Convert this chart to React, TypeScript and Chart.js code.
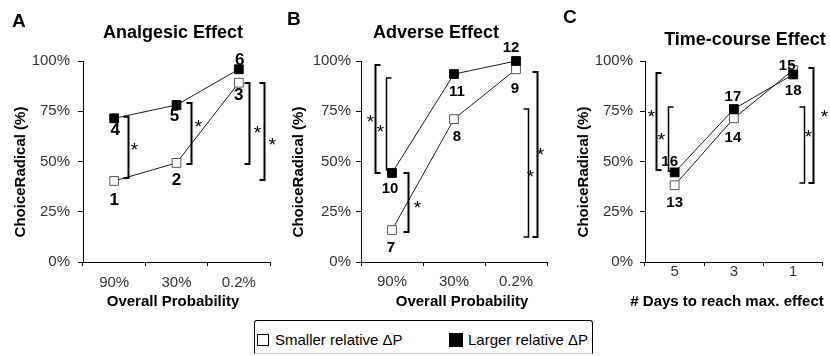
import React, { useEffect, useRef } from 'react';
import { Chart, registerables } from 'chart.js';

Chart.register(...registerables);

// ---------- data ----------
const probCategories = ['90%', '30%', '0.2%'];
const dayCategories = ['5', '3', '1'];
const yTickValues = [0, 25, 50, 75, 100];

const analgesicSmaller = [40.3, 49.3, 89.2];
const analgesicLarger = [71.5, 78.1, 95.9];
const adverseSmaller = [15.9, 71.1, 95.9];
const adverseLarger = [44.3, 93.5, 100];
const timeSmaller = [38.2, 71.5, 95.5];
const timeLarger = [44.6, 76.1, 93.3];

const analgesicSmallerIds = ['1', '2', '3'];
const analgesicLargerIds = ['4', '5', '6'];
const adverseSmallerIds = ['7', '8', '9'];
const adverseLargerIds = ['10', '11', '12'];
const timeSmallerIds = ['13', '14', '15'];
const timeLargerIds = ['16', '17', '18'];

// significance brackets: x in category index units, lo/hi and star y in % units
const analgesicBrackets = [
  { x: 0.227, lo: 41.8, hi: 72.3, dir: -1, starDx: 6, starY: 58.2, w: 2 },
  { x: 1.233, lo: 48.8, hi: 79.1, dir: -1, starDx: 7, starY: 69.7, w: 2 },
  { x: 2.163, lo: 48.8, hi: 89.0, dir: -1, starDx: 8, starY: 66.7, w: 2 },
  { x: 2.404, lo: 40.8, hi: 89.0, dir: -1, starDx: 8, starY: 60.7, w: 2 },
];
const adverseBrackets = [
  { x: -0.274, lo: 44.3, hi: 98.0, dir: 1, starDx: -5, starY: 72.1, w: 2 },
  { x: -0.097, lo: 45.8, hi: 91.5, dir: 1, starDx: -6, starY: 67.2, w: 1.5 },
  { x: 0.258, lo: 14.9, hi: 44.3, dir: -1, starDx: 9, starY: 29.4, w: 2 },
  { x: 2.194, lo: 12.4, hi: 76.1, dir: -1, starDx: 2, starY: 45.0, w: 1.5 },
  { x: 2.339, lo: 12.4, hi: 94.5, dir: -1, starDx: 3, starY: 55.7, w: 2 },
];
const timeBrackets = [
  { x: -0.318, lo: 45.8, hi: 94.0, dir: 1, starDx: -5, starY: 74.6, w: 2 },
  { x: -0.119, lo: 45.3, hi: 77.1, dir: 1, starDx: -7, starY: 63.2, w: 1.5 },
  { x: 2.185, lo: 39.3, hi: 77.1, dir: -1, starDx: 4, starY: 64.8, w: 1.5 },
  { x: 2.334, lo: 39.3, hi: 96.5, dir: -1, starDx: 11, starY: 74.8, w: 2 },
];

const FONT = '"Liberation Sans", Arial, Helvetica, sans-serif';

type Bracket = { x: number; lo: number; hi: number; dir: number; starDx: number; starY: number; w: number };
type PanelCfg = {
  left: number;
  width: number;
  chartLeft: number;
  padRight: number;
  categories: string[];
  smaller: number[];
  larger: number[];
  smallerIds: string[];
  largerIds: string[];
  smallerOff: number[][];
  largerOff: number[][];
  brackets: Bracket[];
  letter: string;
  letterPos: number[];
  title: string;
  titlePos: number[];
  yTitleX: number;
  xTitle: string;
  xTitleX: number;
  xTickPad: number;
  yTickPad: number;
  idFont: number;
};

const panels: PanelCfg[] = [
  {
    left: 0, width: 280, chartLeft: 83, padRight: 10,
    categories: probCategories,
    smaller: analgesicSmaller, larger: analgesicLarger,
    smallerIds: analgesicSmallerIds, largerIds: analgesicLargerIds,
    smallerOff: [[0, 18], [0, 16], [0, 12]],
    largerOff: [[1, 11], [-2, 10], [1, -10]],
    brackets: analgesicBrackets,
    letter: 'A', letterPos: [12, 27],
    title: 'Analgesic Effect', titlePos: [173, 38],
    yTitleX: 21, xTitle: 'Overall Probability', xTitleX: 173,
    xTickPad: 8, yTickPad: 8, idFont: 17,
  },
  {
    left: 280, width: 275, chartLeft: 81, padRight: 8,
    categories: probCategories,
    smaller: adverseSmaller, larger: adverseLarger,
    smallerIds: adverseSmallerIds, largerIds: adverseLargerIds,
    smallerOff: [[-1, 17], [3, 17], [-1, 19]],
    largerOff: [[-2, 15], [3, 17], [-5, -14]],
    brackets: adverseBrackets,
    letter: 'B', letterPos: [7, 25],
    title: 'Adverse Effect', titlePos: [156, 38],
    yTitleX: 19, xTitle: 'Overall Probability', xTitleX: 182,
    xTickPad: 7, yTickPad: 5, idFont: 15,
  },
  {
    left: 555, width: 275, chartLeft: 90, padRight: 4,
    categories: dayCategories,
    smaller: timeSmaller, larger: timeLarger,
    smallerIds: timeSmallerIds, largerIds: timeLargerIds,
    smallerOff: [[0, 17], [-1, 19], [-6, -5]],
    largerOff: [[-5, -11], [-1, -13], [0, 15]],
    brackets: timeBrackets,
    letter: 'C', letterPos: [8, 23],
    title: 'Time-course Effect', titlePos: [190, 45],
    yTitleX: 29, xTitle: '# Days to reach max. effect', xTitleX: 172,
    xTickPad: -3, yTickPad: 7, idFont: 15,
  },
];

const H = 310;
const CHART_TOP = 61;
const CHART_BOTTOM = 262;

function Panel({ cfg }: { cfg: PanelCfg }) {
  const ref = useRef<HTMLCanvasElement | null>(null);

  useEffect(() => {
    const canvas = ref.current;
    if (!canvas) return;

    const decor = {
      id: 'panelDecor',
      afterDatasetsDraw(chart: any) {
        const ctx = chart.ctx;
        const xs = chart.scales.x;
        const ys = chart.scales.y;
        ctx.save();
        // point id labels
        ctx.fillStyle = '#000';
        ctx.font = `bold ${cfg.idFont}px ${FONT}`;
        ctx.textAlign = 'center';
        ctx.textBaseline = 'middle';
        const drawIds = (dsIndex: number, ids: string[], offs: number[][]) => {
          const meta = chart.getDatasetMeta(dsIndex);
          meta.data.forEach((pt: any, i: number) => {
            ctx.fillText(ids[i], pt.x + offs[i][0], pt.y + offs[i][1] + 1);
          });
        };
        drawIds(0, cfg.largerIds, cfg.largerOff);
        drawIds(1, cfg.smallerIds, cfg.smallerOff);

        // brackets
        ctx.strokeStyle = '#000';
        ctx.lineCap = 'butt';
        cfg.brackets.forEach((b) => {
          const px = Math.round(xs.getPixelForValue(b.x)) + 0.5;
          const yTop = ys.getPixelForValue(b.hi);
          const yBot = ys.getPixelForValue(b.lo);
          const tick = 5 * b.dir;
          ctx.lineWidth = b.w;
          ctx.beginPath();
          ctx.moveTo(px + tick, yTop);
          ctx.lineTo(px, yTop);
          ctx.lineTo(px, yBot);
          ctx.lineTo(px + tick, yBot);
          ctx.stroke();
          ctx.font = `19px ${FONT}`;
          ctx.textAlign = 'center';
          ctx.textBaseline = 'alphabetic';
          ctx.fillText('*', px + b.starDx, ys.getPixelForValue(b.starY) + 11);
        });

        // panel letter and title
        ctx.textBaseline = 'alphabetic';
        ctx.textAlign = 'left';
        ctx.font = `bold 19px ${FONT}`;
        ctx.fillText(cfg.letter, cfg.letterPos[0], cfg.letterPos[1]);
        ctx.textAlign = 'center';
        ctx.font = `bold 18px ${FONT}`;
        ctx.fillText(cfg.title, cfg.titlePos[0], cfg.titlePos[1]);

        // axis titles
        ctx.font = `bold 15px ${FONT}`;
        ctx.textBaseline = 'middle';
        ctx.fillText(cfg.xTitle, cfg.xTitleX, 302);
        ctx.save();
        ctx.translate(cfg.yTitleX, 172);
        ctx.rotate(-Math.PI / 2);
        ctx.fillText('ChoiceRadical (%)', 0, 0);
        ctx.restore();
        ctx.restore();
      },
    };

    const chart = new Chart(canvas, {
      type: 'line',
      data: {
        labels: cfg.categories,
        datasets: [
          {
            label: 'Larger relative ΔP',
            data: cfg.larger,
            borderColor: '#1a1a1a',
            borderWidth: 1,
            pointStyle: 'rect',
            pointRadius: 6.2,
            pointBackgroundColor: '#000',
            pointBorderColor: '#000',
            pointBorderWidth: 1,
            clip: false,
            tension: 0,
          },
          {
            label: 'Smaller relative ΔP',
            data: cfg.smaller,
            borderColor: '#1a1a1a',
            borderWidth: 1,
            pointStyle: 'rect',
            pointRadius: 6.2,
            pointBackgroundColor: '#fff',
            pointBorderColor: '#555',
            pointBorderWidth: 1,
            clip: false,
            tension: 0,
          },
        ],
      },
      options: {
        animation: false,
        responsive: false,
        maintainAspectRatio: false,
        devicePixelRatio: 1,
        events: [],
        layout: { padding: { top: CHART_TOP, right: cfg.padRight, bottom: 0, left: 0 } },
        plugins: {
          legend: { display: false },
          title: { display: false },
          tooltip: { enabled: false },
        },
        scales: {
          x: {
            type: 'category',
            offset: true,
            grid: {
              offset: true,
              drawOnChartArea: false,
              drawTicks: true,
              tickLength: 4,
              color: '#000',
              lineWidth: 1,
            },
            border: { display: true, color: '#000', width: 1 },
            ticks: {
              font: { family: FONT, size: 15 },
              color: '#333',
              padding: cfg.xTickPad,
              maxRotation: 0,
              autoSkip: false,
            },
            afterFit: (s: any) => {
              s.height = H - CHART_BOTTOM;
            },
          },
          y: {
            min: 0,
            max: 100,
            afterBuildTicks: (s: any) => {
              s.ticks = yTickValues.map((v) => ({ value: v }));
            },
            grid: {
              drawOnChartArea: false,
              drawTicks: true,
              tickLength: 5,
              color: '#000',
              lineWidth: 1,
            },
            border: { display: true, color: '#000', width: 1 },
            ticks: {
              font: { family: FONT, size: 15 },
              color: '#333',
              padding: cfg.yTickPad,
              callback: (v: any) => `${v}%`,
            },
            afterFit: (s: any) => {
              s.width = cfg.chartLeft;
            },
          },
        },
      },
      plugins: [decor],
    } as any);

    return () => {
      chart.destroy();
    };
  }, [cfg]);

  return (
    <canvas
      ref={ref}
      width={cfg.width}
      height={H}
      style={{ position: 'absolute', left: cfg.left, top: 0, width: cfg.width, height: H }}
    />
  );
}

export default function App() {
  return (
    <div
      style={{
        position: 'absolute',
        left: 0,
        top: 0,
        width: 830,
        height: 356,
        background: '#fff',
        overflow: 'hidden',
        fontFamily: FONT,
      }}
    >
      {panels.map((p, i) => (
        <Panel key={i} cfg={p} />
      ))}
      <div
        style={{
          position: 'absolute',
          left: 254,
          top: 320,
          width: 339,
          height: 34,
          borderTop: '1.5px solid #000',
          borderLeft: '1.5px solid #000',
          borderRight: '1.5px solid #000',
          borderBottom: '1px solid #ccc',
          borderRadius: '3px 3px 0 0',
          boxSizing: 'border-box',
          fontSize: 15,
          color: '#000',
        }}
      >
        <div
          style={{
            position: 'absolute',
            left: 2,
            top: 13,
            width: 12,
            height: 12,
            border: '1.5px solid #000',
            boxSizing: 'border-box',
            background: '#fff',
          }}
        />
        <div style={{ position: 'absolute', left: 20, top: 10, whiteSpace: 'nowrap', lineHeight: '18px' }}>
          Smaller relative ΔP
        </div>
        <div
          style={{
            position: 'absolute',
            left: 194,
            top: 12,
            width: 14,
            height: 14,
            background: '#000',
          }}
        />
        <div style={{ position: 'absolute', left: 213, top: 10, whiteSpace: 'nowrap', lineHeight: '18px' }}>
          Larger relative ΔP
        </div>
      </div>
    </div>
  );
}
